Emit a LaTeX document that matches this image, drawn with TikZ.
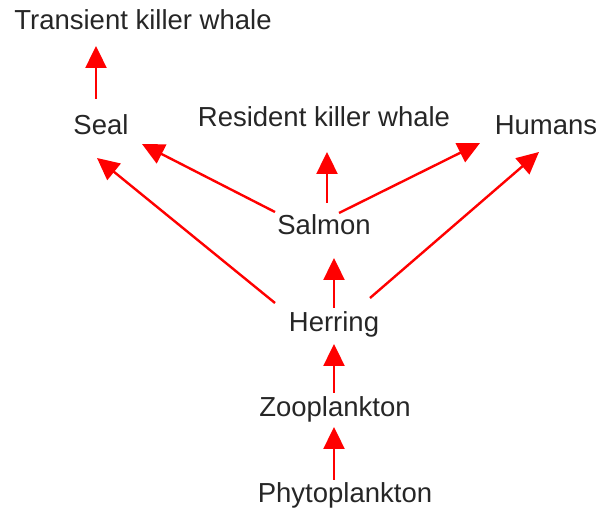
\documentclass[tikz,border=0pt]{standalone}
\usepackage{fontspec}
\setmainfont{Liberation Sans}
\usetikzlibrary{arrows.meta}
\begin{document}
\begin{tikzpicture}[x=1pt,y=-1pt,
  lbl/.style={anchor=base,inner sep=0pt,text=black!85,font=\fontsize{27.5}{33}\selectfont},
  arr/.style={draw=red,line width=2.4pt,-{Triangle[length=22pt,width=21pt]}}]
\useasboundingbox (0,0) rectangle (600,510);
\node[lbl] (trans) at (143,30) {Transient killer whale};
\node[lbl] (seal) at (101,135) {Seal};
\node[lbl] (res) at (324,127) {Resident killer whale};
\node[lbl] (hum) at (546,135) {Humans};
\node[lbl] (salmon) at (324,235) {Salmon};
\node[lbl] (herring) at (334,332) {Herring};
\node[lbl] (zoo) at (335,417) {Zooplankton};
\node[lbl] (phyto) at (345,503) {Phytoplankton};
\draw[arr] ([shift={(-5,-36)}]seal.base) -- ([shift={(-47,16)}]trans.base);
\draw[arr] ([shift={(-49,-23)}]salmon.base) -- ([shift={(41,9)}]seal.base);
\draw[arr] ([shift={(-59,-29)}]herring.base) -- ([shift={(-4,23)}]seal.base);
\draw[arr] ([shift={(3,-32)}]salmon.base) -- ([shift={(3,25)}]res.base);
\draw[arr] ([shift={(15,-22)}]salmon.base) -- ([shift={(-66,8)}]hum.base);
\draw[arr] ([shift={(36,-34)}]herring.base) -- ([shift={(-7,17)}]hum.base);
\draw[arr] ([shift={(0,-24)}]herring.base) -- ([shift={(10,23)}]salmon.base);
\draw[arr] ([shift={(-1,-24)}]zoo.base) -- ([shift={(0,12)}]herring.base);
\draw[arr] ([shift={(-11,-23)}]phyto.base) -- ([shift={(-1,10)}]zoo.base);
\end{tikzpicture}
\end{document}
